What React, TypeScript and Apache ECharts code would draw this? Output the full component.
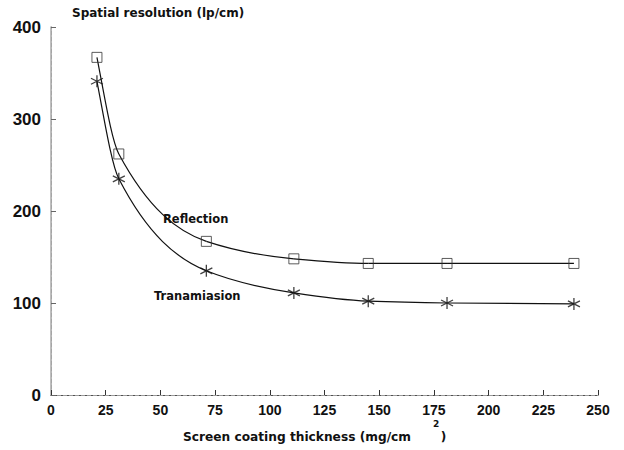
import React, { useEffect, useRef } from "react";
import * as echarts from "echarts";

const thickness = [21, 31, 71, 111, 145, 181, 239];
const reflection = [367, 262, 167, 148, 143, 143, 143];
const transmission = [341, 235, 135, 111, 102, 100, 99];
const xTicks = [0, 25, 50, 75, 100, 125, 150, 175, 200, 225, 250];
const yTicks = [0, 100, 200, 300, 400];

const STAR = "path://M0,-6L0,6M-5.2,-3L5.2,3M-5.2,3L5.2,-3";
const NUM_FONT = "'Liberation Sans', Arial, sans-serif";
const TXT_FONT = "'DejaVu Sans', sans-serif";

// monotone cubic (PCHIP) tangents, used to draw the smooth curve through the measured points
function pchipSlopes(xs: number[], ys: number[]): number[] {
  const n = xs.length;
  const h: number[] = [];
  const del: number[] = [];
  for (let i = 0; i < n - 1; i++) {
    h.push(xs[i + 1] - xs[i]);
    del.push((ys[i + 1] - ys[i]) / h[i]);
  }
  const d = new Array(n).fill(0);
  for (let i = 1; i < n - 1; i++) {
    if (del[i - 1] * del[i] <= 0) d[i] = 0;
    else {
      const w1 = 2 * h[i] + h[i - 1];
      const w2 = h[i] + 2 * h[i - 1];
      d[i] = (w1 + w2) / (w1 / del[i - 1] + w2 / del[i]);
    }
  }
  const endSlope = (h0: number, h1: number, d0: number, d1: number) => {
    let s = ((2 * h0 + h1) * d0 - h0 * d1) / (h0 + h1);
    if (Math.sign(s) !== Math.sign(d0)) s = 0;
    else if (Math.sign(d0) !== Math.sign(d1) && Math.abs(s) > Math.abs(3 * d0)) s = 3 * d0;
    return s;
  };
  d[0] = endSlope(h[0], h[1], del[0], del[1]);
  d[n - 1] = endSlope(h[n - 2], h[n - 3], del[n - 2], del[n - 3]);
  return d;
}

function curveSeries(name: string, ys: number[]) {
  const slopes = pchipSlopes(thickness, ys);
  return {
    name,
    type: "custom",
    silent: true,
    z: 2,
    data: thickness.slice(0, -1).map((x, i) => [x, ys[i]]),
    renderItem: (params: any, api: any) => {
      const i = params.dataIndex;
      const x0 = thickness[i];
      const x1 = thickness[i + 1];
      const y0 = ys[i];
      const y1 = ys[i + 1];
      const h = x1 - x0;
      const p0 = api.coord([x0, y0]);
      const c1 = api.coord([x0 + h / 3, y0 + (slopes[i] * h) / 3]);
      const c2 = api.coord([x1 - h / 3, y1 - (slopes[i + 1] * h) / 3]);
      const p1 = api.coord([x1, y1]);
      return {
        type: "bezierCurve",
        shape: { x1: p0[0], y1: p0[1], cpx1: c1[0], cpy1: c1[1], cpx2: c2[0], cpy2: c2[1], x2: p1[0], y2: p1[1] },
        style: { stroke: "#111", lineWidth: 1.2, fill: "none" },
      };
    },
  };
}

export default function App() {
  const ref = useRef<HTMLDivElement>(null);
  useEffect(() => {
    if (!ref.current) return;
    const chart = echarts.init(ref.current, undefined, { renderer: "svg" });
    const pair = (ys: number[]) => thickness.map((x, i) => [x, ys[i]]);
    chart.setOption({
      animation: false,
      backgroundColor: "#fff",
      textStyle: { fontFamily: NUM_FONT },
      grid: { left: 51, right: 26, top: 27, bottom: 55 },
      xAxis: [
        {
          type: "value",
          min: xTicks[0],
          max: xTicks[xTicks.length - 1],
          interval: 25,
          axisLine: { show: true, onZero: false, lineStyle: { color: "#222", width: 1 } },
          axisTick: { show: true, inside: true, length: 5, lineStyle: { color: "#333" } },
          axisLabel: { fontFamily: NUM_FONT, fontWeight: "bold", fontSize: 14, color: "#111", margin: 8 },
          splitLine: { show: false },
        },
        {
          type: "value",
          position: "top",
          min: 0,
          max: 250,
          interval: 25,
          axisLine: { show: true, lineStyle: { color: "#999", type: "dashed", width: 1 } },
          axisTick: { show: false },
          axisLabel: { show: false },
          splitLine: { show: false },
        },
      ],
      yAxis: [
        {
          type: "value",
          min: yTicks[0],
          max: yTicks[yTicks.length - 1],
          interval: 100,
          axisLine: { show: true, lineStyle: { color: "#999", type: "dashed", width: 1 } },
          axisTick: { show: true, inside: true, length: 5, lineStyle: { color: "#666" } },
          axisLabel: { fontFamily: NUM_FONT, fontWeight: "bold", fontSize: 17, color: "#111", margin: 10 },
          splitLine: { show: false },
        },
        {
          type: "value",
          position: "right",
          min: 0,
          max: 400,
          interval: 100,
          axisLine: { show: true, lineStyle: { color: "#aaa", width: 1.5 } },
          axisTick: { show: false },
          axisLabel: { show: false },
          splitLine: { show: false },
        },
      ],
      series: [
        curveSeries("Reflection curve", reflection),
        curveSeries("Tranamiasion curve", transmission),
        {
          name: "Reflection",
          type: "scatter",
          z: 3,
          data: pair(reflection),
          symbol: "rect",
          symbolSize: 10,
          itemStyle: { color: "rgba(255,255,255,0)", borderColor: "#333", borderWidth: 1 },
        },
        {
          name: "Tranamiasion",
          type: "scatter",
          z: 3,
          data: pair(transmission),
          symbol: STAR,
          symbolSize: 12,
          itemStyle: { color: "none", borderColor: "#111", borderWidth: 1.3 },
        },
      ],
      graphic: [
        {
          type: "text",
          left: 72,
          top: 7,
          style: { text: "Spatial resolution (lp/cm)", font: `bold 12px ${TXT_FONT}`, fill: "#111" },
        },
        {
          type: "text",
          left: 163,
          top: 213,
          style: { text: "Reflection", font: `bold 11.5px ${TXT_FONT}`, fill: "#111" },
        },
        {
          type: "text",
          left: 154,
          top: 290,
          style: { text: "Tranamiasion", font: `bold 11.5px ${TXT_FONT}`, fill: "#111" },
        },
        {
          type: "text",
          left: 183,
          top: 431,
          style: { text: "Screen coating thickness (mg/cm       )", font: `bold 12.2px ${TXT_FONT}`, fill: "#111" },
        },
        {
          type: "text",
          left: 433,
          top: 419,
          style: { text: "2", font: `bold 9px ${TXT_FONT}`, fill: "#111" },
        },
      ],
    });
    return () => chart.dispose();
  }, []);
  return <div ref={ref} style={{ width: 624, height: 450, position: "absolute", left: 0, top: 0 }} />;
}
